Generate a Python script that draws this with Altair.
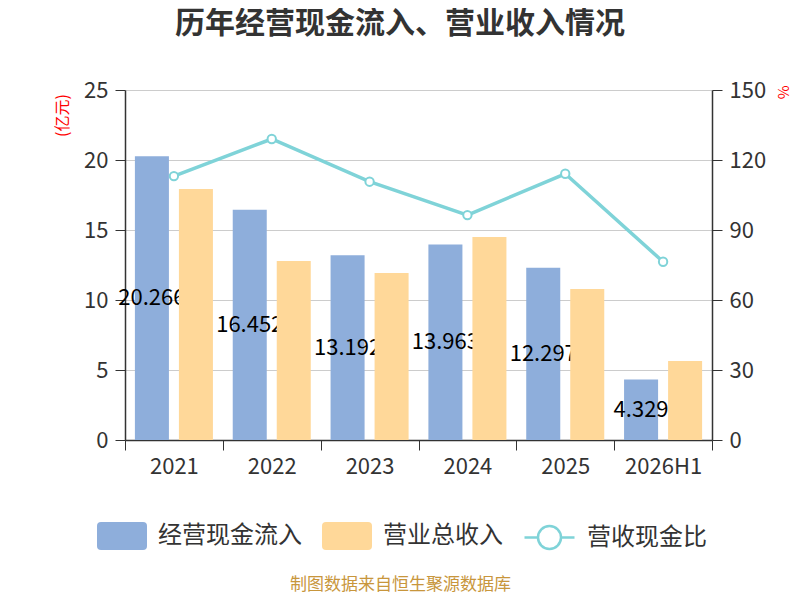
import altair as alt
import pandas as pd

years = ["2021", "2022", "2023", "2024", "2025", "2026H1"]
cash_in = [20.266, 16.452, 13.192, 13.963, 12.297, 4.329]
revenue = [17.93, 12.79, 11.93, 14.50, 10.79, 5.64]
ratio = [113.1, 129.0, 110.7, 96.4, 114.1, 76.4]

S_CASH = "经营现金流入"
S_REV = "营业总收入"
S_RATIO = "营收现金比"

BLUE = "#8EAEDB"
ORANGE = "#FFD899"
TEAL = "#7FD3D8"
FONT = "Noto Sans CJK SC"

bars = pd.DataFrame(
    [{"year": y, "series": S_CASH, "value": v} for y, v in zip(years, cash_in)]
    + [{"year": y, "series": S_REV, "value": v} for y, v in zip(years, revenue)]
)
line_df = pd.DataFrame({"year": years, "series": S_RATIO, "ratio": ratio})

x_axis = alt.Axis(
    title="制图数据来自恒生聚源数据库",
    titleColor="#C8963C",
    titleFontSize=17,
    titleFontWeight="normal",
    titleX=275,
    titleY=144,
    titleAlign="center",
    titleBaseline="middle",
    labelAngle=0,
    labelFontSize=22,
    labelColor="#333333",
    labelPadding=6,
    tickBand="extent",
    tickSize=10,
    tickColor="#333333",
    domainColor="#333333",
    domainWidth=1.5,
    grid=False,
)


def x_enc():
    return alt.X("year:N", sort=years, scale=alt.Scale(paddingInner=0, paddingOuter=0), axis=x_axis)


xoff = alt.XOffset(
    "series:N",
    scale=alt.Scale(domain=[S_CASH, S_REV], paddingInner=0.227, paddingOuter=0.225),
)

left_scale = alt.Scale(domain=[0, 25])
left_axis = alt.Axis(
    values=[0, 5, 10, 15, 20, 25],
    title="(亿元)",
    titleColor="#FF0000",
    titleFontSize=16,
    titleFontWeight="normal",
    titleAngle=270,
    titleX=-63,
    titleY=25,
    titleAlign="center",
    titleBaseline="middle",
    labelFontSize=22,
    labelColor="#333333",
    labelPadding=7,
    tickSize=10,
    tickColor="#333333",
    domainColor="#333333",
    domainWidth=1.5,
    grid=True,
    gridColor="#CCCCCC",
    gridWidth=1,
)

color_enc = alt.Color(
    "series:N",
    scale=alt.Scale(domain=[S_CASH, S_REV], range=[BLUE, ORANGE]),
    legend=alt.Legend(
        title=None,
        orient="none",
        direction="horizontal",
        legendX=-28,
        legendY=421,
        padding=0,
        symbolType="M-0.84,-0.56 L0.84,-0.56 Q1,-0.56 1,-0.4 L1,0.4 Q1,0.56 0.84,0.56 L-0.84,0.56 Q-1,0.56 -1,0.4 L-1,-0.4 Q-1,-0.56 -0.84,-0.56 Z",
        symbolSize=2500,
        symbolStrokeWidth=0,
        labelFontSize=24,
        labelColor="#333333",
        labelOffset=11,
        columnPadding=20,
        labelFont=FONT,
    ),
)

blue_bars = (
    alt.Chart(bars)
    .transform_filter(alt.datum.series == S_CASH)
    .mark_bar()
    .encode(
        x=x_enc(),
        xOffset=xoff,
        y=alt.Y("value:Q", scale=left_scale, axis=left_axis),
        color=color_enc,
    )
)

labels = (
    alt.Chart(bars)
    .transform_filter(alt.datum.series == S_CASH)
    .transform_calculate(half="datum.value / 2")
    .mark_text(fontSize=22, color="#000000", baseline="middle", align="center", font=FONT)
    .encode(
        x=x_enc(),
        xOffset=xoff,
        y=alt.Y("half:Q", scale=left_scale, axis=left_axis),
        text=alt.Text("value:Q", format=".3f"),
    )
)

orange_bars = (
    alt.Chart(bars)
    .transform_filter(alt.datum.series == S_REV)
    .mark_bar()
    .encode(
        x=x_enc(),
        xOffset=xoff,
        y=alt.Y("value:Q", scale=left_scale, axis=left_axis),
        color=color_enc,
    )
)

left = alt.layer(blue_bars, labels, orange_bars)

right_scale = alt.Scale(domain=[0, 150])
right_axis = alt.Axis(
    orient="right",
    values=[0, 30, 60, 90, 120, 150],
    title="%",
    titleColor="#FF0000",
    titleFontSize=15,
    titleFontWeight="normal",
    titleAngle=90,
    titleX=70,
    titleY=2,
    titleAlign="center",
    titleBaseline="middle",
    labelFontSize=22,
    labelColor="#333333",
    labelPadding=7,
    tickSize=10,
    tickColor="#333333",
    domainColor="#333333",
    domainWidth=1.5,
    grid=False,
)

line = (
    alt.Chart(line_df)
    .mark_line(strokeWidth=3.5)
    .encode(
        x=x_enc(),
        y=alt.Y("ratio:Q", scale=right_scale, axis=right_axis),
        stroke=alt.Stroke(
            "series:N",
            scale=alt.Scale(domain=[S_RATIO], range=[TEAL]),
            legend=alt.Legend(
                title=None,
                orient="none",
                direction="horizontal",
                legendX=398,
                legendY=421,
                padding=0,
                symbolType="M-1,0 L-0.46,0 M0.46,0 L1,0 M0.46,0 A0.46,0.46 0 1,1 -0.46,0 A0.46,0.46 0 1,1 0.46,0",
                symbolSize=2500,
                symbolStrokeWidth=2.5,
                symbolFillColor="#FFFFFF",
                labelFontSize=24,
                labelColor="#333333",
                labelOffset=11,
                labelFont=FONT,
            ),
        ),
    )
)

points = (
    alt.Chart(line_df)
    .mark_point(filled=True, fill="#FFFFFF", stroke=TEAL, strokeWidth=2, size=70, opacity=1)
    .encode(
        x=x_enc(),
        y=alt.Y("ratio:Q", scale=right_scale, axis=right_axis),
    )
)

right = alt.layer(line, points)

chart = (
    alt.layer(left, right)
    .resolve_scale(y="independent", color="independent")
    .properties(
        width=587,
        height=350,
        autosize=alt.AutoSizeParams(type="none"),
        padding={"left": 117, "top": 82, "right": 80, "bottom": 152},
        title=alt.TitleParams(
            text="历年经营现金流入、营业收入情况",
            fontSize=30,
            fontWeight="bold",
            color="#333333",
            anchor="middle",
            frame="group",
            dx=-18.5,
            offset=40,
            font=FONT,
        ),
    )
    .configure(font=FONT)
    .configure_view(stroke=None)
)

chart.save("out.html", embed_options={"renderer": "svg", "actions": False})
